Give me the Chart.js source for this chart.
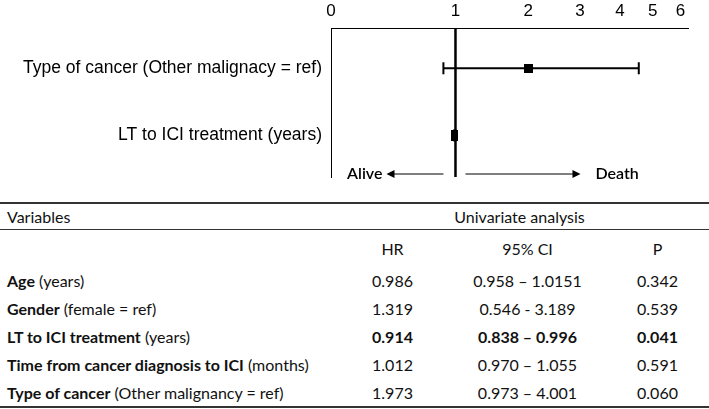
<!DOCTYPE html>
<html>
<head>
<meta charset="utf-8">
<script src="https://cdn.jsdelivr.net/npm/chart.js@4/dist/chart.umd.min.js"></script>
<style>
  html, body { margin: 0; padding: 0; background: #fff; }
  body { width: 709px; height: 409px; position: relative; overflow: hidden; }
  #plotWrap { position: absolute; left: 0; top: 0; width: 709px; height: 200px; }
  table { position: absolute; left: 0; top: 202px; width: 709px; border-collapse: collapse; table-layout: fixed;
          font-family: Lato, "Open Sans", sans-serif; font-size: 16px; color: #111; }
  td { padding: 0; vertical-align: middle; white-space: nowrap; }
  td.num { text-align: center; }
  tr.top td { border-top: 2px solid #333; height: 25px; }
  tr.sub td { border-top: 1px solid #333; height: 36px; }
  tr.row td { height: 28px; }
  tr.last td { border-bottom: 2px solid #333; }
  td.var { padding-left: 7px; }
  td.pcol { padding-left: 6px; }
  .b { font-weight: bold; }
</style>
</head>
<body>
<div id="plotWrap"><canvas id="forest"></canvas></div>
<table id="tbl">
  <colgroup><col style="width:330px"><col style="width:125px"><col style="width:145px"><col style="width:109px"></colgroup>
  <tbody id="tbody"></tbody>
</table>
<script>
// Forest plot rows
const rowLabels = ['Type of cancer (Other malignacy = ref)', 'LT to ICI treatment (years)'];
const hazard = [2.0, 0.99];
const ciLow = [0.87, 0.985];
const ciHigh = [4.55, 1.0];
const axisTicks = [0, 1, 2, 3, 4, 5, 6];

// Table below the plot
const varBold = ['Age', 'Gender', 'LT to ICI treatment', 'Time from cancer diagnosis to ICI', 'Type of cancer'];
const varRest = [' (years)', ' (female = ref)', ' (years)', ' (months)', ' (Other malignancy = ref)'];
const hrValues = ['0.986', '1.319', '0.914', '1.012', '1.973'];
const ciValues = ['0.958 \u2013 1.0151', '0.546 - 3.189', '0.838 \u2013 0.996', '0.970 \u2013 1.055', '0.973 \u2013 4.001'];
const pValues = ['0.342', '0.539', '0.041', '0.591', '0.060'];
const significant = [false, false, true, false, false];

// axis is drawn on log10(x + 1)
const tx = v => Math.log10(v + 1);

function buildTable() {
    const tb = document.getElementById('tbody');
    let html = '<tr class="top"><td class="var">Variables</td><td colspan="3" class="num">Univariate analysis</td></tr>';
    html += '<tr class="sub"><td></td><td class="num">HR</td><td class="num">95% CI</td><td class="num pcol">P</td></tr>';
    varBold.forEach((v, i) => {
        const cls = significant[i] ? ' b' : '';
        const last = i === varBold.length - 1 ? ' last' : '';
        html += '<tr class="row' + last + '"><td class="var"><span class="b">' + v + '</span>' + varRest[i] + '</td>' +
            '<td class="num' + cls + '">' + hrValues[i] + '</td>' +
            '<td class="num' + cls + '">' + ciValues[i] + '</td>' +
            '<td class="num pcol' + cls + '">' + pValues[i] + '</td></tr>';
    });
    tb.innerHTML = html;
}

function rectStyle(w, h) {
    const c = document.createElement('canvas');
    c.width = w; c.height = h;
    const g = c.getContext('2d');
    g.fillStyle = '#000';
    g.fillRect(0, 0, w, h);
    return c;
}

const yMin = 0.4, yMax = 2.62;

const arrowPlugin = {
    id: 'arrows',
    afterDatasetsDraw(chart) {
        const ctx = chart.ctx;
        const xs = chart.scales.x;
        const xRef = xs.getPixelForValue(tx(1));
        const y = chart.chartArea.bottom - 3;
        ctx.save();
        ctx.strokeStyle = '#000';
        ctx.fillStyle = '#000';
        ctx.lineWidth = 1;
        ctx.beginPath();
        ctx.moveTo(xRef - 12, y); ctx.lineTo(xRef - 62, y);
        ctx.moveTo(xRef + 10, y); ctx.lineTo(xRef + 118, y);
        ctx.stroke();
        ctx.beginPath();
        ctx.moveTo(xRef - 69, y); ctx.lineTo(xRef - 61, y - 4); ctx.lineTo(xRef - 61, y + 4); ctx.closePath();
        ctx.moveTo(xRef + 125, y); ctx.lineTo(xRef + 117, y - 4); ctx.lineTo(xRef + 117, y + 4); ctx.closePath();
        ctx.fill();
        ctx.font = '600 16px Lato, sans-serif';
        ctx.textBaseline = 'middle';
        ctx.textAlign = 'right';
        ctx.fillText('Alive', xRef - 73, y);
        ctx.textAlign = 'left';
        ctx.fillText('Death', xRef + 140, y);
        ctx.restore();
    }
};

function initForest() {
    const ciSets = hazard.map((h, i) => ({
        type: 'line',
        data: [{ x: tx(ciLow[i]), y: i + 1 }, { x: tx(ciHigh[i]), y: i + 1 }],
        borderColor: '#000',
        borderWidth: 2,
        pointStyle: 'line',
        rotation: 90,
        pointRadius: 6,
        pointBorderWidth: 2,
        pointBorderColor: '#000'
    }));

    new Chart(document.getElementById('forest'), {
        type: 'scatter',
        data: {
            datasets: [
                {
                    data: hazard.map((h, i) => ({ x: tx(h), y: i + 1 })),
                    pointStyle: [rectStyle(9, 9), rectStyle(7, 11)],
                    pointRadius: 5
                },
                ...ciSets,
                {
                    type: 'line',
                    data: [{ x: tx(1), y: yMin }, { x: tx(1), y: yMax }],
                    borderColor: '#000',
                    borderWidth: 2.5,
                    pointRadius: 0
                }
            ]
        },
        options: {
            responsive: false,
            animation: false,
            layout: { padding: { left: 0, right: 21, top: 0, bottom: 23 } },
            plugins: { legend: { display: false }, tooltip: { enabled: false } },
            scales: {
                x: {
                    type: 'linear',
                    position: 'top',
                    min: 0,
                    max: tx(6.3),
                    afterBuildTicks: s => { s.ticks = axisTicks.map(v => ({ value: tx(v) })); },
                    afterFit: s => { s.height = 28; },
                    grid: { display: false, drawTicks: false },
                    border: { color: '#000', width: 1 },
                    ticks: {
                        callback: (v, i) => String(axisTicks[i]),
                        autoSkip: false, maxRotation: 0, padding: 6,
                        color: '#000',
                        font: { family: 'Liberation Sans', size: 17 }
                    }
                },
                y: {
                    type: 'linear',
                    reverse: true,
                    min: yMin,
                    max: yMax,
                    afterBuildTicks: s => { s.ticks = rowLabels.map((l, i) => ({ value: i + 1 })); },
                    afterFit: s => { s.width = 331; },
                    grid: { display: false, drawTicks: false },
                    border: { color: '#000', width: 1 },
                    ticks: {
                        callback: (v, i) => rowLabels[i],
                        padding: 9,
                        color: '#000',
                        font: { family: 'Liberation Sans', size: 17.5 }
                    }
                }
            }
        },
        plugins: [arrowPlugin]
    });
}

const cv = document.getElementById('forest');
cv.width = 709; cv.height = 200;
cv.style.width = '709px'; cv.style.height = '200px';
buildTable();
initForest();
</script>
</body>
</html>
